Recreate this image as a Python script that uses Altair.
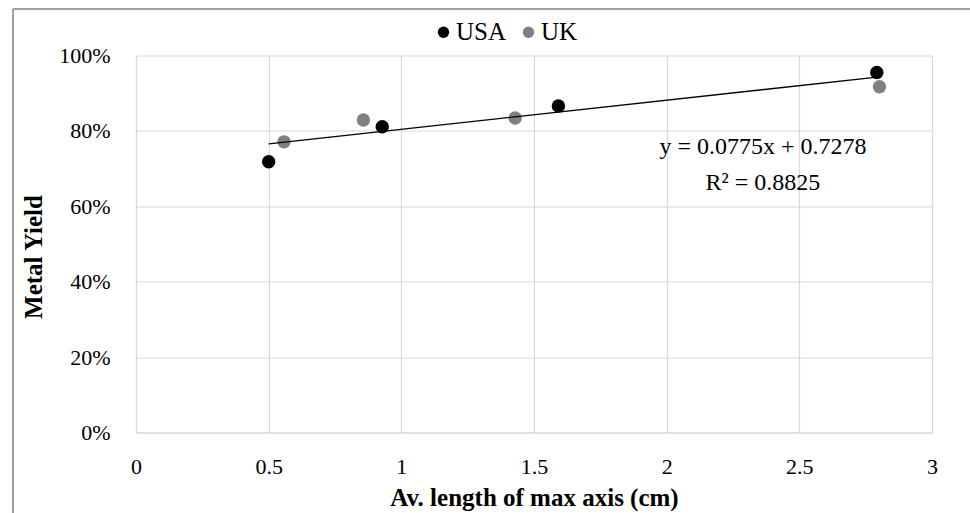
import altair as alt
import pandas as pd

# Data
usa_x = [0.50, 0.928, 1.592, 2.792]
usa_y = [0.718, 0.811, 0.866, 0.955]
uk_x = [0.558, 0.857, 1.429, 2.802]
uk_y = [0.771, 0.829, 0.834, 0.917]
countries = ["USA", "UK"]
x_ticks = [0, 0.5, 1, 1.5, 2, 2.5, 3]
y_ticks = [0, 0.2, 0.4, 0.6, 0.8, 1.0]
eq_lines = ["y = 0.0775x + 0.7278", "R² = 0.8825"]

df = pd.DataFrame({
    "x": usa_x + uk_x,
    "y": usa_y + uk_y,
    "Country": ["USA"] * len(usa_x) + ["UK"] * len(uk_x),
})

FONT = "Liberation Serif"

xs = alt.Scale(domain=[0, 3], nice=False, zero=True)
ys = alt.Scale(domain=[0, 1], nice=False)
xaxis = alt.Axis(title="Av. length of max axis (cm)", values=x_ticks, format="~g",
                 labelFlush=False)
yaxis = alt.Axis(title="Metal Yield", values=y_ticks, format=".0%", titleY=201)

base = alt.Chart(df)

points = base.mark_circle(size=180, opacity=1).encode(
    x=alt.X("x:Q", scale=xs, axis=xaxis),
    y=alt.Y("y:Q", scale=ys, axis=yaxis),
    color=alt.Color("Country:N", sort=countries,
                    scale=alt.Scale(domain=countries, range=["#000000", "#808080"]),
                    legend=alt.Legend(title=None, orient="none", direction="horizontal",
                                      legendX=295, legendY=-36, symbolSize=130,
                                      symbolType="circle", labelFontSize=25,
                                      labelFont=FONT, columnPadding=9, labelOffset=0,
                                      symbolStrokeWidth=0)),
)

trend = base.transform_regression("x", "y", method="linear").mark_line(
    color="black", strokeWidth=1.3
).encode(x=alt.X("x:Q", scale=xs, axis=xaxis), y=alt.Y("y:Q", scale=ys, axis=yaxis))

eq1 = alt.Chart(pd.DataFrame({"t": [eq_lines[0]]})).mark_text(
    font=FONT, fontSize=24, color="black", align="center", baseline="middle"
).encode(x=alt.datum(2.363, scale=xs, axis=xaxis), y=alt.datum(0.757, scale=ys, axis=yaxis), text="t:N")

eq2 = alt.Chart(pd.DataFrame({"t": [eq_lines[1]]})).mark_text(
    font=FONT, fontSize=24, color="black", align="center", baseline="middle"
).encode(x=alt.datum(2.363, scale=xs, axis=xaxis), y=alt.datum(0.662, scale=ys, axis=yaxis), text="t:N")

frame_top = alt.Chart(df).mark_rule(color="#a0a0a0", strokeWidth=1.2).encode(
    x=alt.value(-123), x2=alt.value(900), y=alt.value(-46.5))
frame_left = alt.Chart(df).mark_rule(color="#a0a0a0", strokeWidth=1.2).encode(
    x=alt.value(-123), y=alt.value(-46.5), y2=alt.value(600))

chart = alt.layer(points, trend, eq1, eq2, frame_top, frame_left).properties(
    width=796, height=377,
    padding={"left": 136, "top": 55.5, "right": 38, "bottom": 80.5},
    autosize=alt.AutoSizeParams(type="none"),
    background="white",
).configure_view(stroke=None).configure_axis(
    grid=True, gridColor="#d9d9d9", gridWidth=1.2,
    domainColor="#d9d9d9", domainWidth=1.2,
    ticks=False, labelFont=FONT, labelFontSize=22, labelColor="black",
    titleFont=FONT, titleFontSize=25, titleFontWeight="bold", titleColor="black",
).configure_axisX(labelPadding=24, titlePadding=8).configure_axisY(
    labelPadding=26, titlePadding=12)

chart.save("out.html", embed_options={"renderer": "svg", "actions": False})
